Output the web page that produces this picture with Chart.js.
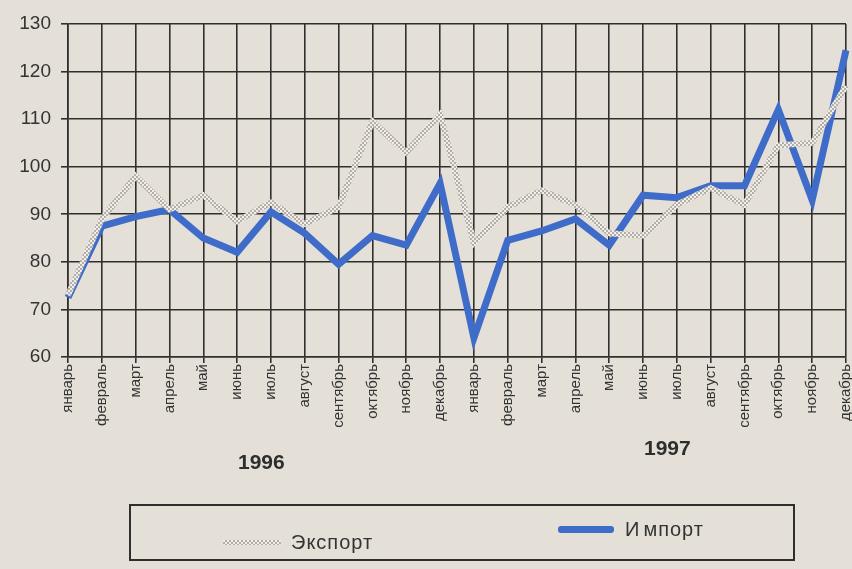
<!DOCTYPE html>
<html>
<head>
<meta charset="utf-8">
<script src="https://cdn.jsdelivr.net/npm/chart.js@4/dist/chart.umd.min.js"></script>
<style>
  html,body{margin:0;padding:0;background:#e4e0d8;}
  #wrap{position:relative;width:852px;height:569px;overflow:hidden;background:#e4e0d8;font-family:"Liberation Sans",Arial,sans-serif;}
  canvas{position:absolute;left:0;top:0;}
  .year{position:absolute;font-weight:bold;font-size:21px;color:#2e2e2e;}
  #legend{position:absolute;left:129px;top:504px;width:666px;height:57px;border:2px solid #2e2e2e;box-sizing:border-box;}
  .lg{position:absolute;font-size:20px;letter-spacing:1px;color:#333;line-height:22px;}
  .sw{position:absolute;}
</style>
</head>
<body>
<div id="wrap">
  <canvas id="c" width="852" height="569"></canvas>
  <div class="year" style="left:238px;top:450px;">1996</div>
  <div class="year" style="left:644px;top:436px;">1997</div>
  <div id="legend">
    <div class="sw" id="swExp" style="left:92px;top:34px;width:58px;height:5px;"></div>
    <div class="lg" style="left:160px;top:25px;">Экспорт</div>
    <div class="sw" style="left:427px;top:20px;width:56px;height:7px;background:#3f6cc9;border-radius:3px;"></div>
    <div class="lg" style="left:494px;top:12px;">И<span style="margin-left:3px">мпорт</span></div>
  </div>
</div>
<script>
const months = ['январь','февраль','март','апрель','май','июнь','июль','август','сентябрь','октябрь','ноябрь','декабрь'];
const categories = months.concat(months);
const exportValues = [73, 89, 98, 91, 94, 88.5, 92.5, 88, 91.5, 109.5, 103, 111, 84, 91.5, 95, 92, 86, 85.5, 92, 95.5, 92, 104.5, 105, 117];
const importValues = [72.5, 87.5, 89.5, 91, 85, 82, 90.5, 86, 79.5, 85.5, 83.5, 96.5, 64, 84.5, 86.5, 89, 83.5, 94, 93.5, 96, 96, 112, 93, 124.5];
const yTicks = [60, 70, 80, 90, 100, 110, 120, 130];

// textured grey pattern for the export line
const pc = document.createElement('canvas');
pc.width = 4; pc.height = 4;
const pctx = pc.getContext('2d');
pctx.fillStyle = '#f1eee8'; pctx.fillRect(0,0,4,4);
pctx.fillStyle = '#b3afa8';
pctx.fillRect(0,0,2,2); pctx.fillRect(2,2,2,2);
const ctx = document.getElementById('c').getContext('2d');
const pattern = ctx.createPattern(pc, 'repeat');
document.getElementById('swExp').style.background = 'repeating-conic-gradient(#b3afa8 0 25%, #f1eee8 0 50%) 0 0/4px 4px';

const gridColor = '#2f2f2f';
new Chart(ctx, {
  type: 'line',
  data: {
    labels: categories,
    datasets: [
      { label: 'Экспорт', data: exportValues, borderColor: pattern, borderWidth: 6, pointRadius: 0, tension: 0, borderJoinStyle: 'miter', fill: false },
      { label: 'Импорт', data: importValues, borderColor: '#3f6cc9', borderWidth: 7, pointRadius: 0, tension: 0, borderJoinStyle: 'miter', fill: false }
    ]
  },
  options: {
    responsive: false,
    animation: false,
    devicePixelRatio: 1,
    layout: { padding: { top: 24, right: 6, left: 0, bottom: 0 } },
    plugins: { legend: { display: false }, tooltip: { enabled: false } },
    scales: {
      x: {
        type: 'category',
        offset: false,
        grid: { color: gridColor, lineWidth: 1.6, tickLength: 6, drawTicks: true },
        border: { color: gridColor, width: 1.6 },
        ticks: { autoSkip: false, maxRotation: 90, minRotation: 90, padding: 1, color: '#333', font: { family: 'Liberation Sans', size: 15 } },
        afterFit: (s) => { s.height = 212; s.paddingRight = 0; s.paddingLeft = 0; }
      },
      y: {
        min: 60, max: 130,
        afterBuildTicks: (s) => { s.ticks = yTicks.map(v => ({ value: v })); },
        grid: { color: gridColor, lineWidth: 1.6, tickLength: 7 },
        border: { color: gridColor, width: 1.6 },
        ticks: { padding: 10, color: '#333', font: { family: 'Liberation Sans', size: 19 } },
        afterFit: (s) => { s.width = 68; s.paddingTop = 0; s.paddingBottom = 0; }
      }
    }
  }
});
</script>
</body>
</html>
